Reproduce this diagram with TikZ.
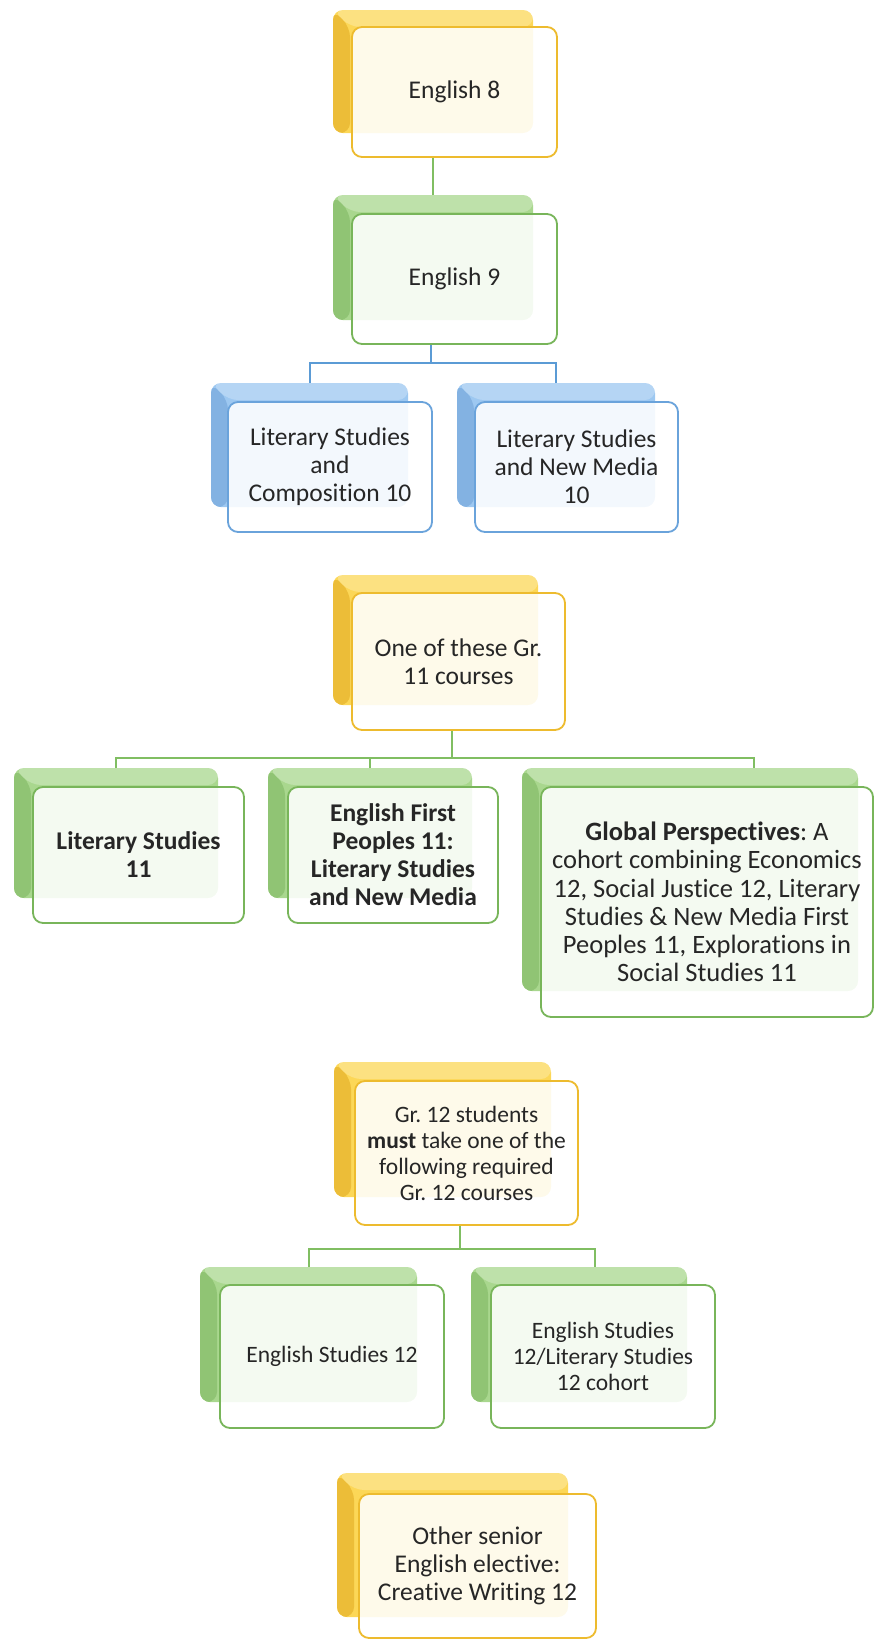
\documentclass[tikz,border=0pt]{standalone}
\usepackage{fontspec}
\setmainfont{Carlito}[Ligatures={NoCommon,NoRare}]

% palettes: main face, bevelled side, front outline
\definecolor{yelmain}{HTML}{FCD757}
\definecolor{yelside}{HTML}{ECBD38}
\definecolor{yelline}{HTML}{EDBB2E}
\definecolor{grnmain}{HTML}{A9D78E}
\definecolor{grnside}{HTML}{90C474}
\definecolor{grnline}{HTML}{78B55A}
\definecolor{blumain}{HTML}{9DC8F1}
\definecolor{bluside}{HTML}{83B2E2}
\definecolor{bluline}{HTML}{6AA3DB}
\definecolor{ink}{HTML}{262626}
\definecolor{grnlink}{HTML}{80BE62}
\definecolor{blulink}{HTML}{5B9BD5}

\begin{document}
\frenchspacing
\begin{tikzpicture}[x=1pt,y=-1pt,
  % place a box by its corners (x1,y1) (x2,y2), y counted downwards
  box at/.style n args={4}{at={({(#1+#3)/2},{(#2+#4)/2})},
    minimum width={(#3-#1)*1pt}, minimum height={(#4-#2)*1pt}},
  back/.style={rectangle, rounded corners=10pt, inner sep=0pt, outer sep=0pt,
    fill=#1main,
    path picture={
      \fill[#1side] (path picture bounding box.north west)
        -- ([xshift=17pt,yshift=-17pt]path picture bounding box.north west)
        -- ([xshift=17pt]path picture bounding box.south west)
        -- (path picture bounding box.south west) -- cycle;
      \fill[white,opacity=0.25] ([xshift=17pt,yshift=-17pt]path picture bounding box.north west)
        -- ([yshift=-17pt]path picture bounding box.north east)
        -- (path picture bounding box.north east)
        -- (path picture bounding box.north west) -- cycle;
    }},
  front/.style={rectangle, rounded corners=10pt, inner sep=2pt, outer sep=0pt,
    draw=#1line, line width=1.8pt, fill=white, fill opacity=0.88, text opacity=1,
    align=center, text=ink, font=\fontsize{25.5}{28}\selectfont},
  small/.style={font=\fontsize{23.5}{26}\selectfont},
  wide/.style={font=\fontsize{26.5}{28.3}\selectfont},
  link/.style={draw=#1, line width=2pt},
]
\useasboundingbox (0,0) rectangle (875,1641);

% ---- back plates ----
\node[back=yel, box at={333}{10}{533}{133}]   (e8b)  {};
\node[back=grn, box at={333}{195}{533}{320}]  (e9b)  {};
\node[back=blu, box at={211}{383}{408}{507}]  (l10ab) {};
\node[back=blu, box at={457}{383}{655}{507}]  (l10bb) {};
\node[back=yel, box at={333}{575}{538}{705}]  (g11b) {};
\node[back=grn, box at={14}{768}{218}{898}]   (l11b) {};
\node[back=grn, box at={268}{768}{472}{898}]  (efpb) {};
\node[back=grn, box at={522}{768}{858}{991}]  (gpb)  {};
\node[back=yel, box at={334}{1062}{551}{1197}] (g12b) {};
\node[back=grn, box at={200}{1267}{417}{1402}] (es12b) {};
\node[back=grn, box at={471}{1267}{687}{1402}] (eslb) {};
\node[back=yel, box at={337}{1473}{568}{1617}] (cwb)  {};

% ---- connector junctions ----
\coordinate (j10) at (431,363);
\coordinate (j11) at (452,758);
\coordinate (gpdrop) at (754,768);
\coordinate (j12) at (460,1249);
\coordinate (esdrop) at (595,1267);

% ---- connectors ----
\draw[link=grnlink] (e8b.north |- 0,157) -- (e9b.north);
\draw[link=blulink] (j10 |- 0,344) -- (j10);
\draw[link=blulink] (l10ab.north) |- (l10bb.north |- j10) -- (l10bb.north);
\draw[link=grnlink] (j11 |- 0,730) -- (j11);
\draw[link=grnlink] (l11b.north) |- (gpdrop |- j11) -- (gpdrop);
\draw[link=grnlink] (efpb.north |- j11) -- (efpb.north);
\draw[link=grnlink] (j12 |- 0,1225) -- (j12);
\draw[link=grnlink] (es12b.north) |- (esdrop |- j12) -- (esdrop);

% ---- front cards ----
\node[front=yel, box at={352}{27}{557}{157}] (e8) {English 8};
\node[front=grn, box at={352}{214}{557}{344}] (e9) {English 9};
\node[front=blu, box at={228}{402}{432}{532}] (l10a)
  {Literary Studies\\and\\Composition 10};
\node[front=blu, box at={475}{402}{678}{532}] (l10b)
  {Literary Studies\\and New Media\\10};
\node[front=yel, box at={352}{593}{565}{730}] (g11)
  {One of these Gr.\\11 courses};
\node[front=grn, box at={33}{787}{244}{923}] (l11)
  {\textbf{Literary Studies}\\\textbf{11}};
\node[front=grn, box at={288}{787}{498}{923}] (efp)
  {\textbf{English First}\\\textbf{Peoples 11:}\\\textbf{Literary Studies}\\\textbf{and New Media}};
\node[front=grn, wide, box at={541}{787}{873}{1017}] (gp)
  {\textbf{Global Perspectives}: A\\cohort combining Economics\\12, Social Justice 12, Literary\\Studies \& New Media First\\Peoples 11, Explorations in\\Social Studies 11};
\node[front=yel, small, box at={355}{1081}{578}{1225}] (g12)
  {Gr. 12 students\\\textbf{must} take one of the\\following required\\Gr. 12 courses};
\node[front=grn, small, box at={220}{1285}{444}{1428}] (es12)
  {English Studies 12};
\node[front=grn, small, box at={491}{1285}{715}{1428}] (esl)
  {English Studies\\12/Literary Studies\\12 cohort};
\node[front=yel, box at={359}{1494}{596}{1638}] (cw)
  {Other senior\\English elective:\\Creative Writing 12};
\end{tikzpicture}
\end{document}
